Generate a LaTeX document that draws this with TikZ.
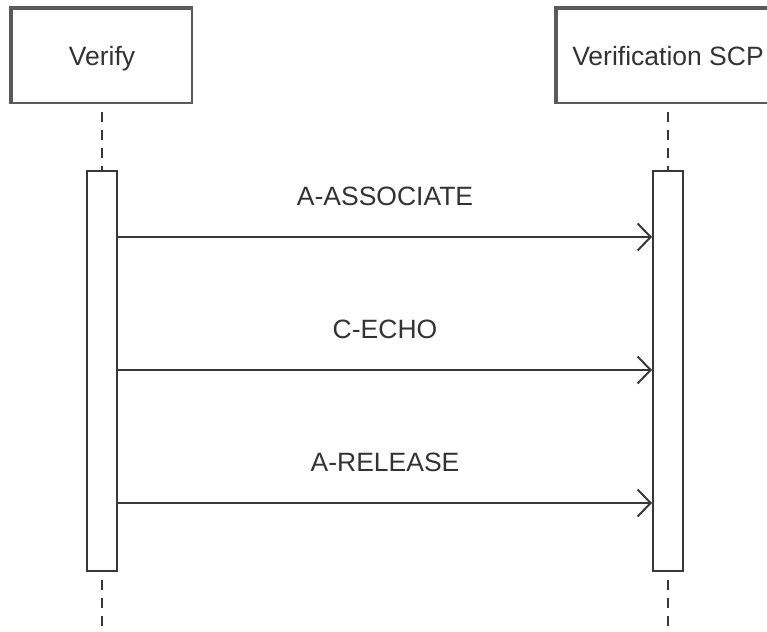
\documentclass[tikz,border=0pt]{standalone}
\usepackage{fontspec}
\setmainfont{Liberation Sans}
\usepackage{xcolor}
\usetikzlibrary{arrows.meta,positioning}

\definecolor{boxline}{HTML}{5A5A5A}
\definecolor{inkline}{HTML}{383838}
\definecolor{inktext}{HTML}{333333}

\tikzset{
  actor/.style={draw=boxline,line width=2pt,fill=white,minimum height=94pt,
    text height=19pt,text depth=0pt,
    font=\fontsize{26.5}{30}\selectfont,text=inktext},
  actbar/.style={draw=inkline,line width=2pt,fill=white,minimum width=30pt,minimum height=400pt},
  lifeline/.style={draw=inkline,line width=2pt,dash pattern=on 10pt off 8pt,dash phase=10pt},
  msg/.style={draw=inkline,line width=2pt,-{Straight Barb[length=13pt,width=27pt,line width=2pt]}},
  msglabel/.style={font=\fontsize{26.5}{30}\selectfont,text=inktext}
}

\begin{document}
\begin{tikzpicture}[x=1pt,y=-1pt]
\useasboundingbox (0,0) rectangle (767,631);
\clip (0,0) rectangle (767,631);

% actors
\node[actor,minimum width=180pt] (verify) at (102,56) {Verify};
\node[actor,minimum width=222pt] (scp) at (668,56) {Verification SCP};
\draw[boxline,line width=4pt] (verify.south west) |- (verify.north east);
\draw[boxline,line width=4pt] (scp.south west) |- (scp.north east);

% activation bars
\node[actbar] (verifybar) at (102,371) {};
\node[actbar] (scpbar) at (668,371) {};
\coordinate (verifyend) at (102,640);
\coordinate (scpend) at (668,640);

% lifelines
\draw[lifeline] (verify.south) -- (verifybar.north);
\draw[lifeline] (scp.south) -- (scpbar.north);
\draw[lifeline] (verifybar.south) -- (verifyend);
\draw[lifeline] (scpbar.south) -- (scpend);

% messages
\foreach \y/\txt in {237/A-ASSOCIATE,370/C-ECHO,503/A-RELEASE} {
  \coordinate (m) at (0,\y);
  \draw[msg] (verifybar.east |- m) -- (scpbar.west |- m)
    node[midway,above=27pt,msglabel] {\txt};
}
\end{tikzpicture}
\end{document}
